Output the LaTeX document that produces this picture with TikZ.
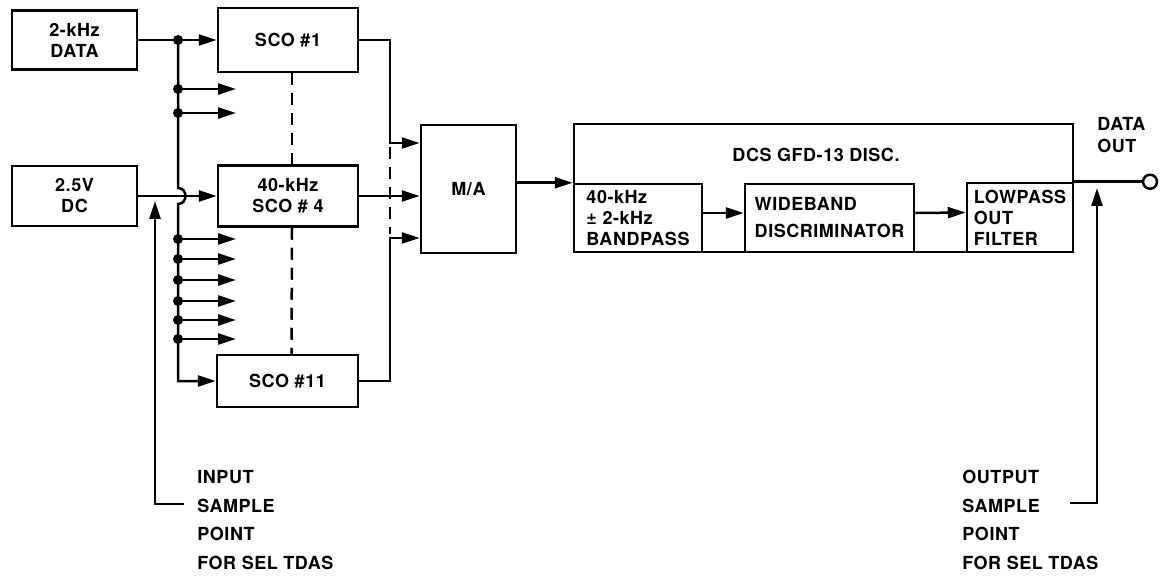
\documentclass[tikz,border=0pt]{standalone}
\usepackage{fontspec}
\newfontfamily\diagfont{TeX Gyre Heros}[LetterSpace=3.0]
\usetikzlibrary{arrows.meta, calc}

\tikzset{
  blk/.style={draw, line width=1.25pt, inner sep=1pt, align=center,
              font=\diagfont\bfseries\fontsize{9}{10.5}\selectfont},
  subblk/.style={blk, align=left},
  lbl/.style={inner sep=0pt, align=left,
              font=\diagfont\bfseries\fontsize{9}{14.25}\selectfont},
  wire/.style={line width=1.25pt},
  arr/.style={wire, -{Triangle[length=9pt, width=5.5pt]}},
  dashln/.style={line width=1.25pt, dash pattern=on 6pt off 4pt},
  tapdot/.style={fill=black},
}

\begin{document}
\begin{tikzpicture}[x=0.5pt, y=-0.5pt]
  \useasboundingbox (0,0) rectangle (1172,577);
  % sources
  \node[blk, minimum width=62.5pt, minimum height=29.5pt] (data) at (74.5,40) {2-kHz\\DATA};
  \node[blk, minimum width=62.5pt, minimum height=30pt] (dc) at (74.5,196) {2.5V\\DC};
  % subcarrier oscillators
  \node[blk, minimum width=70pt, minimum height=32pt] (sco1) at (288,40) {SCO \#1};
  \node[blk, minimum width=70pt, minimum height=30.5pt] (sco4) at (288,196) {40-kHz\\SCO \# 4};
  \node[blk, minimum width=70.5pt, minimum height=26pt] (sco11) at (287.5,381) {SCO \#11};
  % mixer
  \node[blk, minimum width=47.5pt, minimum height=64pt] (ma) at (468.5,189) {M/A};
  % discriminator unit
  \node[draw, line width=1.25pt, minimum width=249.5pt, minimum height=64pt] (dcs) at (823.5,188) {};
  \node[lbl] (dcslbl) at (816,155) {DCS GFD-13 DISC.};
  \node[subblk, minimum width=64pt, minimum height=34pt] (bp) at (638,218) {40-kHz\\± 2-kHz\\BANDPASS};
  \node[subblk, minimum width=84.5pt, minimum height=34pt] (wd) at (829.5,218) {WIDEBAND\\[3pt]DISCRIMINATOR};
  \node[subblk, minimum width=53pt, minimum height=34.5pt] (lp) at (1020,217.5) {LOWPASS\\OUT\\FILTER};
  \node[draw, circle, line width=1.25pt, minimum size=7pt, inner sep=0pt] (dout) at (1150,0 |- lp.north east) {};
  \node[lbl, anchor=north west, font=\diagfont\bfseries\fontsize{9}{11}\selectfont] (dotxt) at (1097,117) {DATA\\OUT};
  % sample point labels
  \node[lbl, anchor=north west] (intxt) at (197,470) {INPUT\\SAMPLE\\POINT\\FOR SEL TDAS};
  \node[lbl, anchor=north west] (outtxt) at (962,470) {OUTPUT\\SAMPLE\\POINT\\FOR SEL TDAS};

  % distribution bus
  \coordinate (j0) at (178,40);
  \coordinate (hop) at (j0 |- dc.east);
  \draw[arr] (data.east) -- (sco1.west);
  \fill[tapdot] (j0) circle[radius=2.5pt];
  \draw[arr] (j0) -- ([yshift=4pt]hop) .. controls +(10,0) and +(10,0) .. ([yshift=-4pt]hop) |- (sco11.west);
  \draw[arr] (dc.east) -- (sco4.west);
  \foreach \y [count=\k] in {89,113,239,259,280,301,320,339}{
    \coordinate (tap\k) at (178,\y);
    \coordinate (tip\k) at (236,\y);
    \draw[arr] (tap\k) -- (tip\k);
    \fill[tapdot] (tap\k) circle[radius=2.5pt];
  }
  \draw[dashln] ([xshift=2pt]sco1.south) -- ([xshift=2pt]sco4.north);
  \draw[dashln] ([xshift=2pt]sco4.south) -- ([xshift=2pt]sco11.north);

  % into M/A
  \coordinate (ms) at (390,0);
  \coordinate (ma1) at (ma.west |- 0,143);
  \coordinate (ma3) at (ma.west |- 0,238);
  \draw[arr] (sco1.east) -- (sco1.east -| ms) |- (ma1);
  \draw[arr] (sco4.east) -- (sco4.east -| ma.west);
  \draw[arr] (sco11.east) -- (sco11.east -| ms) |- (ma3);
  \draw[dashln] ($(ms |- ma1)+(0,4)$) -- ($(ms |- ma3)+(0,-4)$);

  % through the discriminator
  \draw[arr] (ma.east |- bp.north) -- (bp.north west);
  \draw[arr] ([yshift=2.5pt]bp.east) -- ([yshift=2.5pt]wd.west);
  \draw[arr] ([yshift=2.5pt]wd.east) -- ([yshift=2.5pt]lp.west);
  \draw[wire] (lp.north east) -- (dout.west);

  % sample points
  \coordinate (inend) at (184,504);
  \coordinate (intip) at (155,201);
  \draw[arr] (inend) -| (intip);
  \coordinate (outend) at (1070,503);
  \coordinate (outtip) at (1097,188);
  \draw[arr] (outend) -| (outtip);
\end{tikzpicture}
\end{document}
